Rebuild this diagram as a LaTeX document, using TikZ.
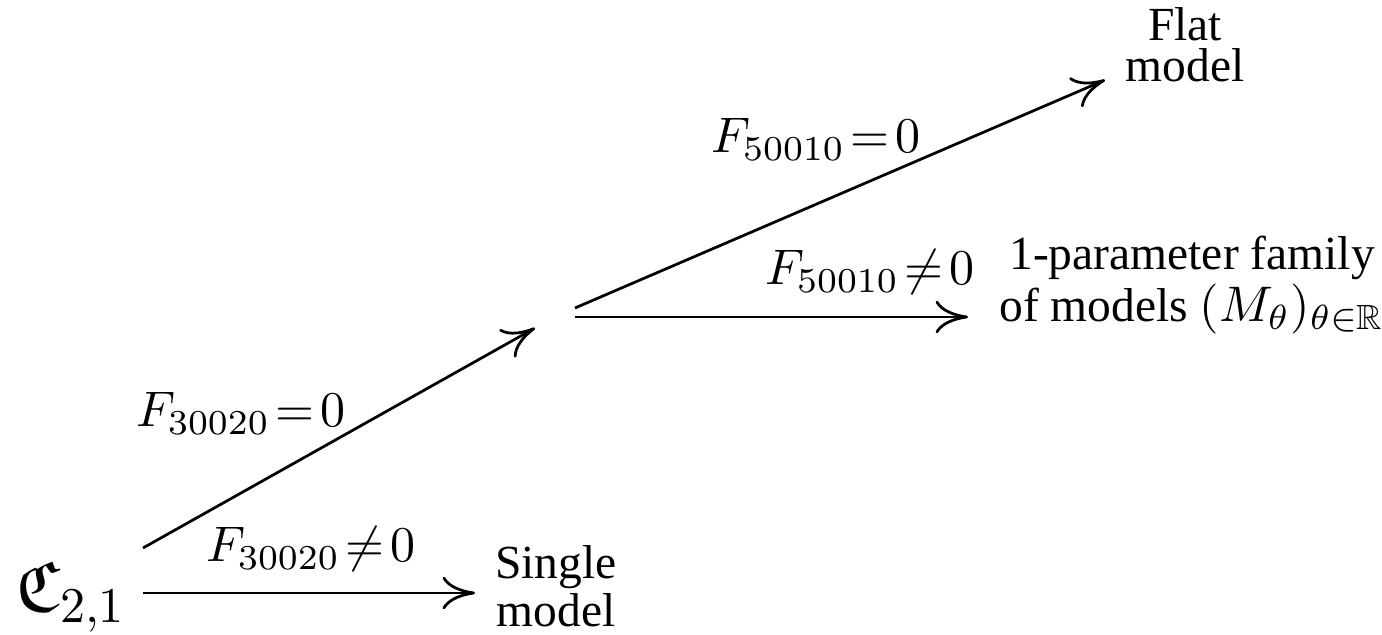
\documentclass[tikz,border=0pt]{standalone}
\usepackage[no-math]{fontspec}
\setmainfont{Liberation Serif}[Scale=0.95]
\usepackage{amssymb}
\usetikzlibrary{arrows.meta}
\newcommand{\releq}{\mkern2mu{=}\mkern2mu}
\newcommand{\relneq}{\mkern2mu{\neq}\mkern2mu}
\begin{document}
\begin{tikzpicture}[x=0.2pt,y=-0.2pt,
  arr/.style={line width=0.55pt,-{To[length=6.5pt,width=6.5pt]}},
  lbl/.style={inner sep=0pt,anchor=base west},
  txt/.style={inner sep=0pt,align=center,anchor=base,font={\fontsize{10pt}{8.3pt}\selectfont}}]
\useasboundingbox (0,0) rectangle (1382,635);
% nodes (anchor = baseline of the last line)
\node[inner sep=0pt,anchor=base west] (C) at (15,612) {\Large$\mathfrak{C}_{2,1}$};
\node[txt] (single) at (556,627) {Single\\model};
\node[txt] (flat) at (1185,82) {Flat\\model};
\node[txt] (family) at (1192,322) {1-parameter family\\of models $(M_\theta)_{\theta\in\mathbb{R}}$};
% junction points
\coordinate (cA) at (143,593);
\coordinate (cB) at (143,548);
\coordinate (sIn) at (475,593);
\coordinate (mIn) at (535,328);
\coordinate (mA) at (575,308);
\coordinate (mB) at (575,317);
\coordinate (fIn) at (1105,80);
\coordinate (pIn) at (968,317);
% connectors
\draw[arr] (cA) -- (sIn);
\draw[arr] (cB) -- (mIn);
\draw[arr] (mA) -- (fIn);
\draw[arr] (mB) -- (pIn);
% labels
\node[lbl] (l1) at (205,562) {$F_{30020}\relneq 0$};
\node[lbl] (l2) at (135,427) {$F_{30020}\releq 0$};
\node[lbl] (l3) at (710,153) {$F_{50010}\releq 0$};
\node[lbl] (l4) at (764,285) {$F_{50010}\relneq 0$};
\end{tikzpicture}
\end{document}
